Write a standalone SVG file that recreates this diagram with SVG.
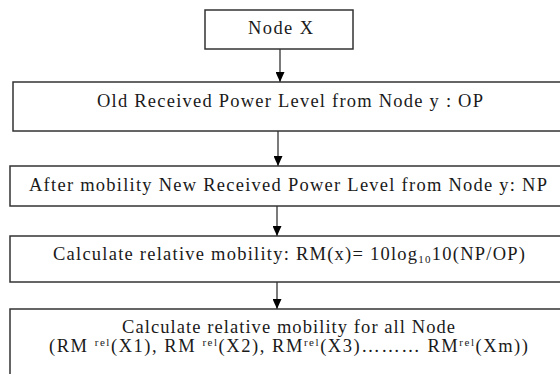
<svg xmlns="http://www.w3.org/2000/svg" width="560" height="374" viewBox="0 0 560 374">
<style>
.box{fill:#fff;stroke:#333;stroke-width:1.5}
.t{font-family:"Liberation Serif","Times New Roman",serif;font-size:18.5px;fill:#1a1a1a;text-anchor:middle}
.s{font-size:11px}
.conn line{stroke:#222;stroke-width:1.2;marker-end:url(#ah)}
</style>
<defs>
<marker id="ah" markerUnits="userSpaceOnUse" markerWidth="10" markerHeight="9" refX="10" refY="4.5" orient="auto">
<path d="M0,0 L10,4.5 L0,9 z" fill="#000"/>
</marker>
</defs>
<rect width="560" height="374" fill="#fff"/>
<g id="connectors" class="conn">
<line x1="280" y1="49" x2="280" y2="82"/>
<line x1="278" y1="131" x2="278" y2="166"/>
<line x1="277" y1="206" x2="277" y2="236"/>
<line x1="277" y1="282" x2="277" y2="309"/>
</g>
<g id="node-x">
<rect class="box" x="205" y="10" width="148" height="39"/>
<text class="t" x="280.5" y="34" textLength="65" lengthAdjust="spacing">Node X</text>
</g>
<g id="old-power">
<rect class="box" x="13" y="82" width="560" height="49"/>
<text class="t" x="290" y="107" textLength="386" lengthAdjust="spacing">Old Received Power Level from Node y : OP</text>
</g>
<g id="new-power">
<rect class="box" x="10" y="166" width="563" height="40"/>
<text class="t" x="288" y="191" textLength="518" lengthAdjust="spacing">After mobility New Received Power Level from Node y: NP</text>
</g>
<g id="relative-mobility">
<rect class="box" x="10" y="236" width="563" height="46"/>
<text class="t" x="289" y="260" textLength="472" lengthAdjust="spacing">Calculate relative mobility: RM(x)= 10log<tspan class="s" dy="3">10</tspan><tspan dy="-3">10(NP/OP)</tspan></text>
</g>
<g id="all-nodes">
<rect class="box" x="10" y="309" width="563" height="80"/>
<text class="t" x="288.5" y="333" textLength="333" lengthAdjust="spacing">Calculate relative mobility for all Node</text>
<text class="t" x="288.5" y="352" textLength="479" lengthAdjust="spacing">(RM <tspan class="s" dy="-6">rel</tspan><tspan dy="6">(X1), RM </tspan><tspan class="s" dy="-6">rel</tspan><tspan dy="6">(X2), RM</tspan><tspan class="s" dy="-6">rel</tspan><tspan dy="6">(X3)……… RM</tspan><tspan class="s" dy="-6">rel</tspan><tspan dy="6">(Xm))</tspan></text>
</g>
</svg>
